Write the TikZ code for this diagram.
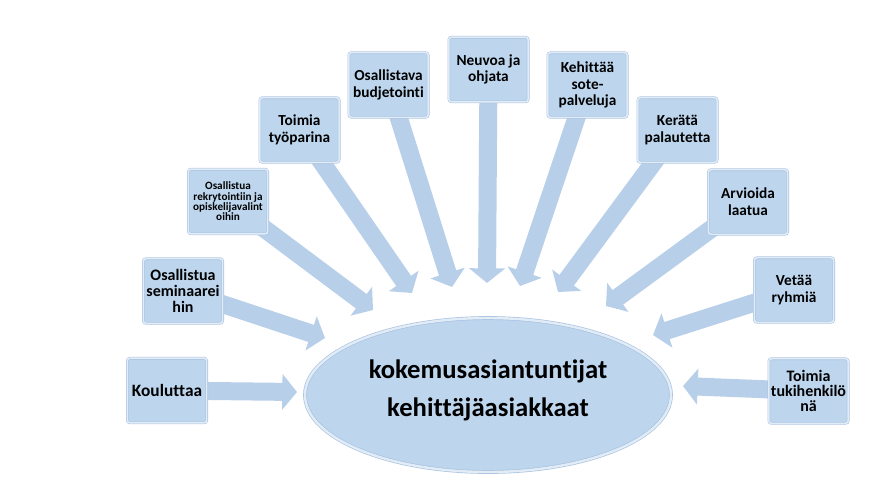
\documentclass[tikz,border=0pt]{standalone}
\usepackage{fontspec}
\setmainfont{Carlito}[Ligatures={NoCommon}]
\usetikzlibrary{arrows.meta,shapes.geometric}
\pgfdeclarelayer{background}
\pgfsetlayers{background,main}
\definecolor{boxblue}{RGB}{189,214,238}
\definecolor{arrblue}{RGB}{184,207,233}
\definecolor{rimblue}{RGB}{226,236,247}
\definecolor{edgeblue}{RGB}{168,194,224}
\begin{document}
\begin{tikzpicture}[x=0.75pt,y=-0.75pt,
  stepbox/.style={fill=boxblue, draw=edgeblue, line width=0.4pt, double=rimblue, double distance=1.2pt,
    rounded corners=2pt, minimum width=59.5pt, minimum height=48.5pt, inner sep=1pt, align=center,
    font=\bfseries\fontsize{11.5}{12.5}\selectfont},
  bigarrow/.style={draw=arrblue, line width=13.5pt, -{Triangle[length=11pt,width=26.5pt]}, arrblue},
  hub/.style={ellipse, fill=boxblue, draw=edgeblue, line width=0.5pt, double=rimblue, double distance=1.8pt,
    minimum width=274.5pt, minimum height=115.5pt, align=center, inner sep=0pt, text depth=11pt,
    font=\bfseries\fontsize{20}{28.5}\selectfont}]
\useasboundingbox (0,0) rectangle (879,487);

% central ellipse
\node[hub] (c) at (488,395) {kokemusasiantuntijat\\kehittäjäasiakkaat};

% boxes
\node[stepbox, font=\bfseries\fontsize{13}{14}\selectfont] (b1) at (167,390.5) {Kouluttaa};
\node[stepbox, font=\bfseries\fontsize{12}{12}\selectfont] (b2) at (183,291) {Osallistua\\seminaarei\\hin};
\node[stepbox, font=\bfseries\fontsize{8.4}{7.8}\selectfont] (b3) at (228,201.5) {Osallistua\\rekrytointiin ja\\opiskelijavalint\\oihin};
\node[stepbox] (b4) at (299.5,130) {Toimia\\työparina};
\node[stepbox] (b5) at (388.5,85) {Osallistava\\budjetointi};
\node[stepbox] (b6) at (488.5,69.5) {Neuvoa ja\\ohjata};
\node[stepbox] (b7) at (587.5,85) {Kehittää\\sote-\\palveluja};
\node[stepbox] (b8) at (677.5,130) {Kerätä\\palautetta};
\node[stepbox] (b9) at (748,202) {Arvioida\\laatua};
\node[stepbox] (b10) at (794,290) {Vetää\\ryhmiä};
\node[stepbox, font=\bfseries\fontsize{12}{11.5}\selectfont] (b11) at (808.5,391) {Toimia\\tukihenkilö\\nä};

% arrow tips
\coordinate (t1) at (297,392);
\coordinate (t2) at (325,338);
\coordinate (t3) at (373,310);
\coordinate (t4) at (412,293);
\coordinate (t5) at (452,287);
\coordinate (t6) at (487,283);
\coordinate (t7) at (520,286);
\coordinate (t8) at (558,292);
\coordinate (t9) at (606,306);
\coordinate (t10) at (653,335);
\coordinate (t11) at (683,386);

\begin{pgfonlayer}{background}
  \foreach \i in {1,...,11} {
    \draw[bigarrow] (b\i.center) -- (t\i);
  }
\end{pgfonlayer}
\end{tikzpicture}
\end{document}
